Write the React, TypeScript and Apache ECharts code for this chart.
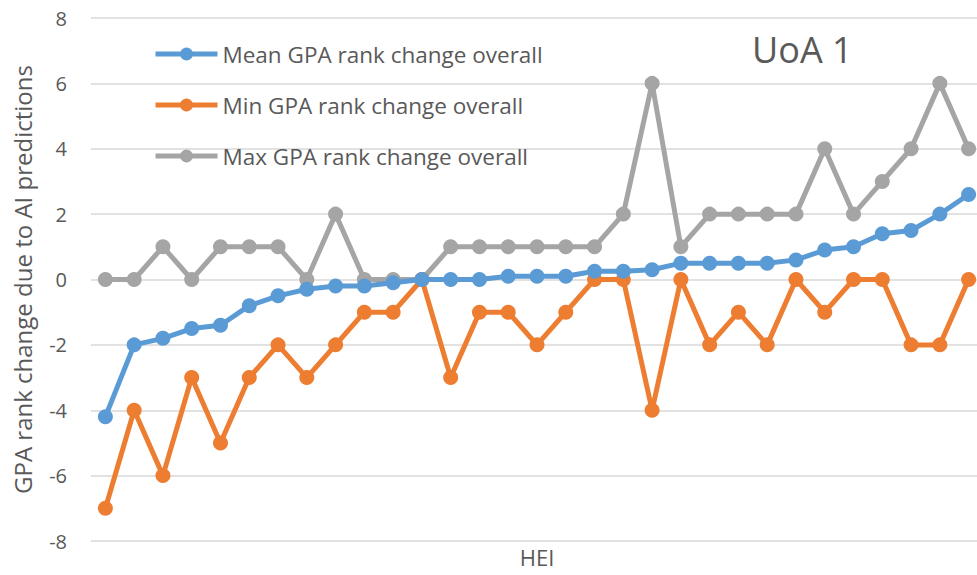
import React, { useEffect, useRef } from "react";
import * as echarts from "echarts";

const categories: string[] = Array.from({ length: 31 }, (_, i) => `HEI ${i + 1}`);

const meanChange = [
  -4.2, -2.0, -1.8, -1.5, -1.4, -0.8, -0.5, -0.3, -0.2, -0.2, -0.1, 0, 0, 0, 0.1, 0.1,
  0.1, 0.25, 0.25, 0.3, 0.5, 0.5, 0.5, 0.5, 0.6, 0.9, 1.0, 1.4, 1.5, 2.0, 2.6,
];
const minChange = [
  -7, -4, -6, -3, -5, -3, -2, -3, -2, -1, -1, 0, -3, -1, -1, -2, -1, 0, 0, -4, 0, -2, -1,
  -2, 0, -1, 0, 0, -2, -2, 0,
];
const maxChange = [
  0, 0, 1, 0, 1, 1, 1, 0, 2, 0, 0, 0, 1, 1, 1, 1, 1, 1, 2, 6, 1, 2, 2, 2, 2, 4, 2, 3, 4, 6, 4,
];

const seriesNames = [
  "Mean GPA rank change overall",
  "Min GPA rank change overall",
  "Max GPA rank change overall",
];
const colors = ["#5B9BD5", "#ED7D31", "#A5A5A5"];

export default function App() {
  const ref = useRef<HTMLDivElement>(null);
  useEffect(() => {
    if (!ref.current) return;
    const chart = echarts.init(ref.current, undefined, { renderer: "svg" });
    const font = "'Open Sans', 'Noto Sans', sans-serif";
    const mk = (name: string, data: number[], color: string, z: number) => ({
      name,
      type: "line",
      data,
      z,
      symbol: "circle",
      symbolSize: 15,
      lineStyle: { width: 5, color },
      itemStyle: { color },
    });
    chart.setOption({
      animation: false,
      textStyle: { fontFamily: font },
      color: colors,
      title: {
        text: "UoA 1",
        left: 747,
        top: 26,
        textStyle: { fontSize: 36, fontWeight: "normal", color: "#595959", fontFamily: font },
      },
      legend: {
        orient: "vertical",
        left: 148,
        top: 37,
        itemWidth: 62,
        itemHeight: 16,
        itemGap: 27,
        lineStyle: { width: 5 },
        textStyle: { fontSize: 22.5, color: "#595959", fontFamily: font, lineHeight: 24 },
        data: seriesNames,
      },
      grid: {
        left: 91,
        top: 18,
        width: 892,
        height: 523,
        containLabel: false,
        outerBoundsMode: "none",
      },
      xAxis: {
        type: "category",
        data: categories,
        boundaryGap: true,
        axisLine: { show: false },
        axisTick: { show: false },
        axisLabel: { show: false },
        name: "HEI",
        nameLocation: "middle",
        nameGap: 5,
        nameTextStyle: {
          fontSize: 22,
          lineHeight: 22,
          color: "#595959",
          fontFamily: font,
          verticalAlign: "top",
        },
      },
      yAxis: {
        type: "value",
        min: -8,
        max: 8,
        interval: 2,
        axisLine: { show: false },
        axisTick: { show: false },
        axisLabel: { fontSize: 20, color: "#595959", margin: 24, fontFamily: font },
        splitLine: { lineStyle: { color: "#D9D9D9", width: 1.5 } },
        name: "GPA rank change due to AI predictions",
        nameLocation: "middle",
        nameGap: 57,
        nameTextStyle: { fontSize: 24, color: "#595959", fontFamily: font },
      },
      series: [
        mk(seriesNames[0], meanChange, colors[0], 4),
        mk(seriesNames[1], minChange, colors[1], 3),
        mk(seriesNames[2], maxChange, colors[2], 2),
      ],
    });
    return () => chart.dispose();
  }, []);
  return (
    <div
      ref={ref}
      style={{ position: "fixed", left: 0, top: 0, width: 977, height: 575, background: "#fff" }}
    />
  );
}
